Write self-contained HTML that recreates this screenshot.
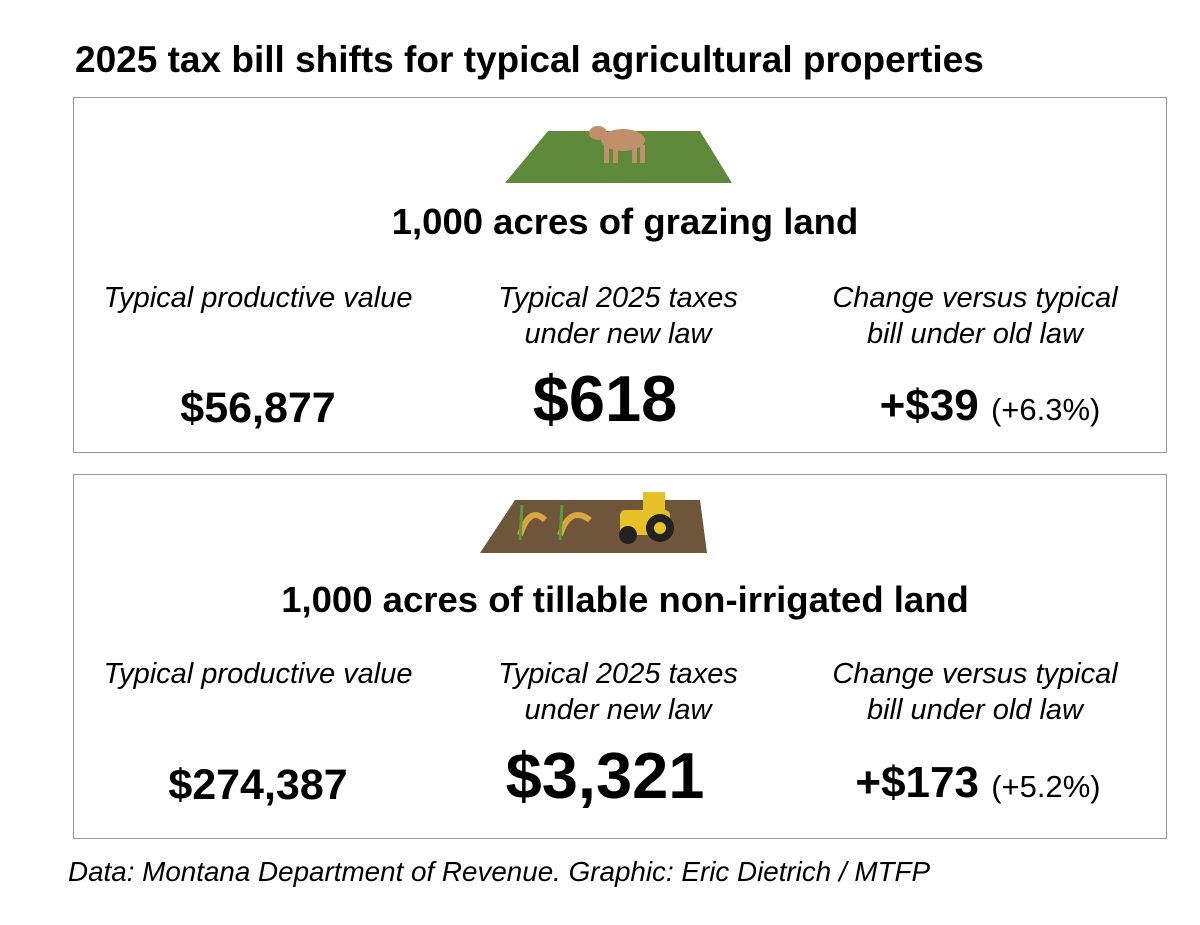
<!DOCTYPE html>
<html><head><style>
body{margin:0;width:1200px;height:925px;background:#fff;font-family:"Liberation Sans",sans-serif;position:relative;overflow:hidden;color:#000}
.a{position:absolute;white-space:nowrap}
.box{position:absolute;left:73px;width:1092px;border:1.5px solid #999}
.h{font-weight:bold;font-size:36.5px;left:0;width:1250px;text-align:center}
.l{font-style:italic;font-size:29px;text-align:center;line-height:36px;width:400px}
.v{font-weight:bold;font-size:43px;text-align:center;width:400px}
.b{font-weight:bold;font-size:65px;text-align:center;width:400px}
.p{font-weight:normal;font-size:31px}
</style></head><body>
<div class="a" style="left:75px;top:39px;font-weight:bold;font-size:37px">2025 tax bill shifts for typical agricultural properties</div>
<div class="box" style="top:97px;height:354px"></div>
<div class="box" style="top:474px;height:363px"></div>
<svg class="a" style="left:0;top:0" width="1200" height="925">
<polygon points="548,131 700,131 732,183 505,183" fill="#5f8a3c"/>
<g fill="#c0906a"><ellipse cx="623" cy="140" rx="22" ry="11"/><ellipse cx="598" cy="133" rx="9" ry="7"/>
<rect x="604" y="145" width="5" height="18"/><rect x="613" y="145" width="5" height="18"/><rect x="632" y="145" width="5" height="18"/><rect x="640" y="145" width="5" height="18"/></g>
<polygon points="515,500 700,500 707,553 480,553" fill="#6f5539"/>
<g stroke="#d9a640" stroke-width="6" fill="none"><path d="M520,535 Q530,505 545,520"/><path d="M560,535 Q570,505 590,520"/></g>
<g stroke="#5a9a3a" stroke-width="3"><line x1="520" y1="540" x2="522" y2="505"/><line x1="560" y1="540" x2="562" y2="505"/></g>
<rect x="620" y="510" width="50" height="25" rx="5" fill="#e6c228"/><rect x="643" y="492" width="22" height="22" fill="#e6c228"/>
<circle cx="628" cy="535" r="9" fill="#222"/><circle cx="660" cy="528" r="14" fill="#222"/><circle cx="660" cy="528" r="6" fill="#e6c228"/>
</svg>
<div class="a h" style="top:201px">1,000 acres of grazing land</div>
<div class="a l" style="left:58px;top:280px">Typical productive value</div>
<div class="a l" style="left:418px;top:280px">Typical 2025 taxes<br>under new law</div>
<div class="a l" style="left:775px;top:280px">Change versus typical<br>bill under old law</div>
<div class="a v" style="left:58px;top:384px">$56,877</div>
<div class="a b" style="left:405px;top:361px">$618</div>
<div class="a v" style="left:790px;top:381px;font-size:44px">+$39 <span class="p">(+6.3%)</span></div>
<div class="a h" style="top:579px">1,000 acres of tillable non-irrigated land</div>
<div class="a l" style="left:58px;top:656px">Typical productive value</div>
<div class="a l" style="left:418px;top:656px">Typical 2025 taxes<br>under new law</div>
<div class="a l" style="left:775px;top:656px">Change versus typical<br>bill under old law</div>
<div class="a v" style="left:58px;top:761px">$274,387</div>
<div class="a b" style="left:405px;top:738px">$3,321</div>
<div class="a v" style="left:778px;top:758px;font-size:44px">+$173 <span class="p">(+5.2%)</span></div>
<div class="a" style="left:68px;top:856px;font-style:italic;font-size:27.8px">Data: Montana Department of Revenue. Graphic: Eric Dietrich / MTFP</div>
</body></html>
